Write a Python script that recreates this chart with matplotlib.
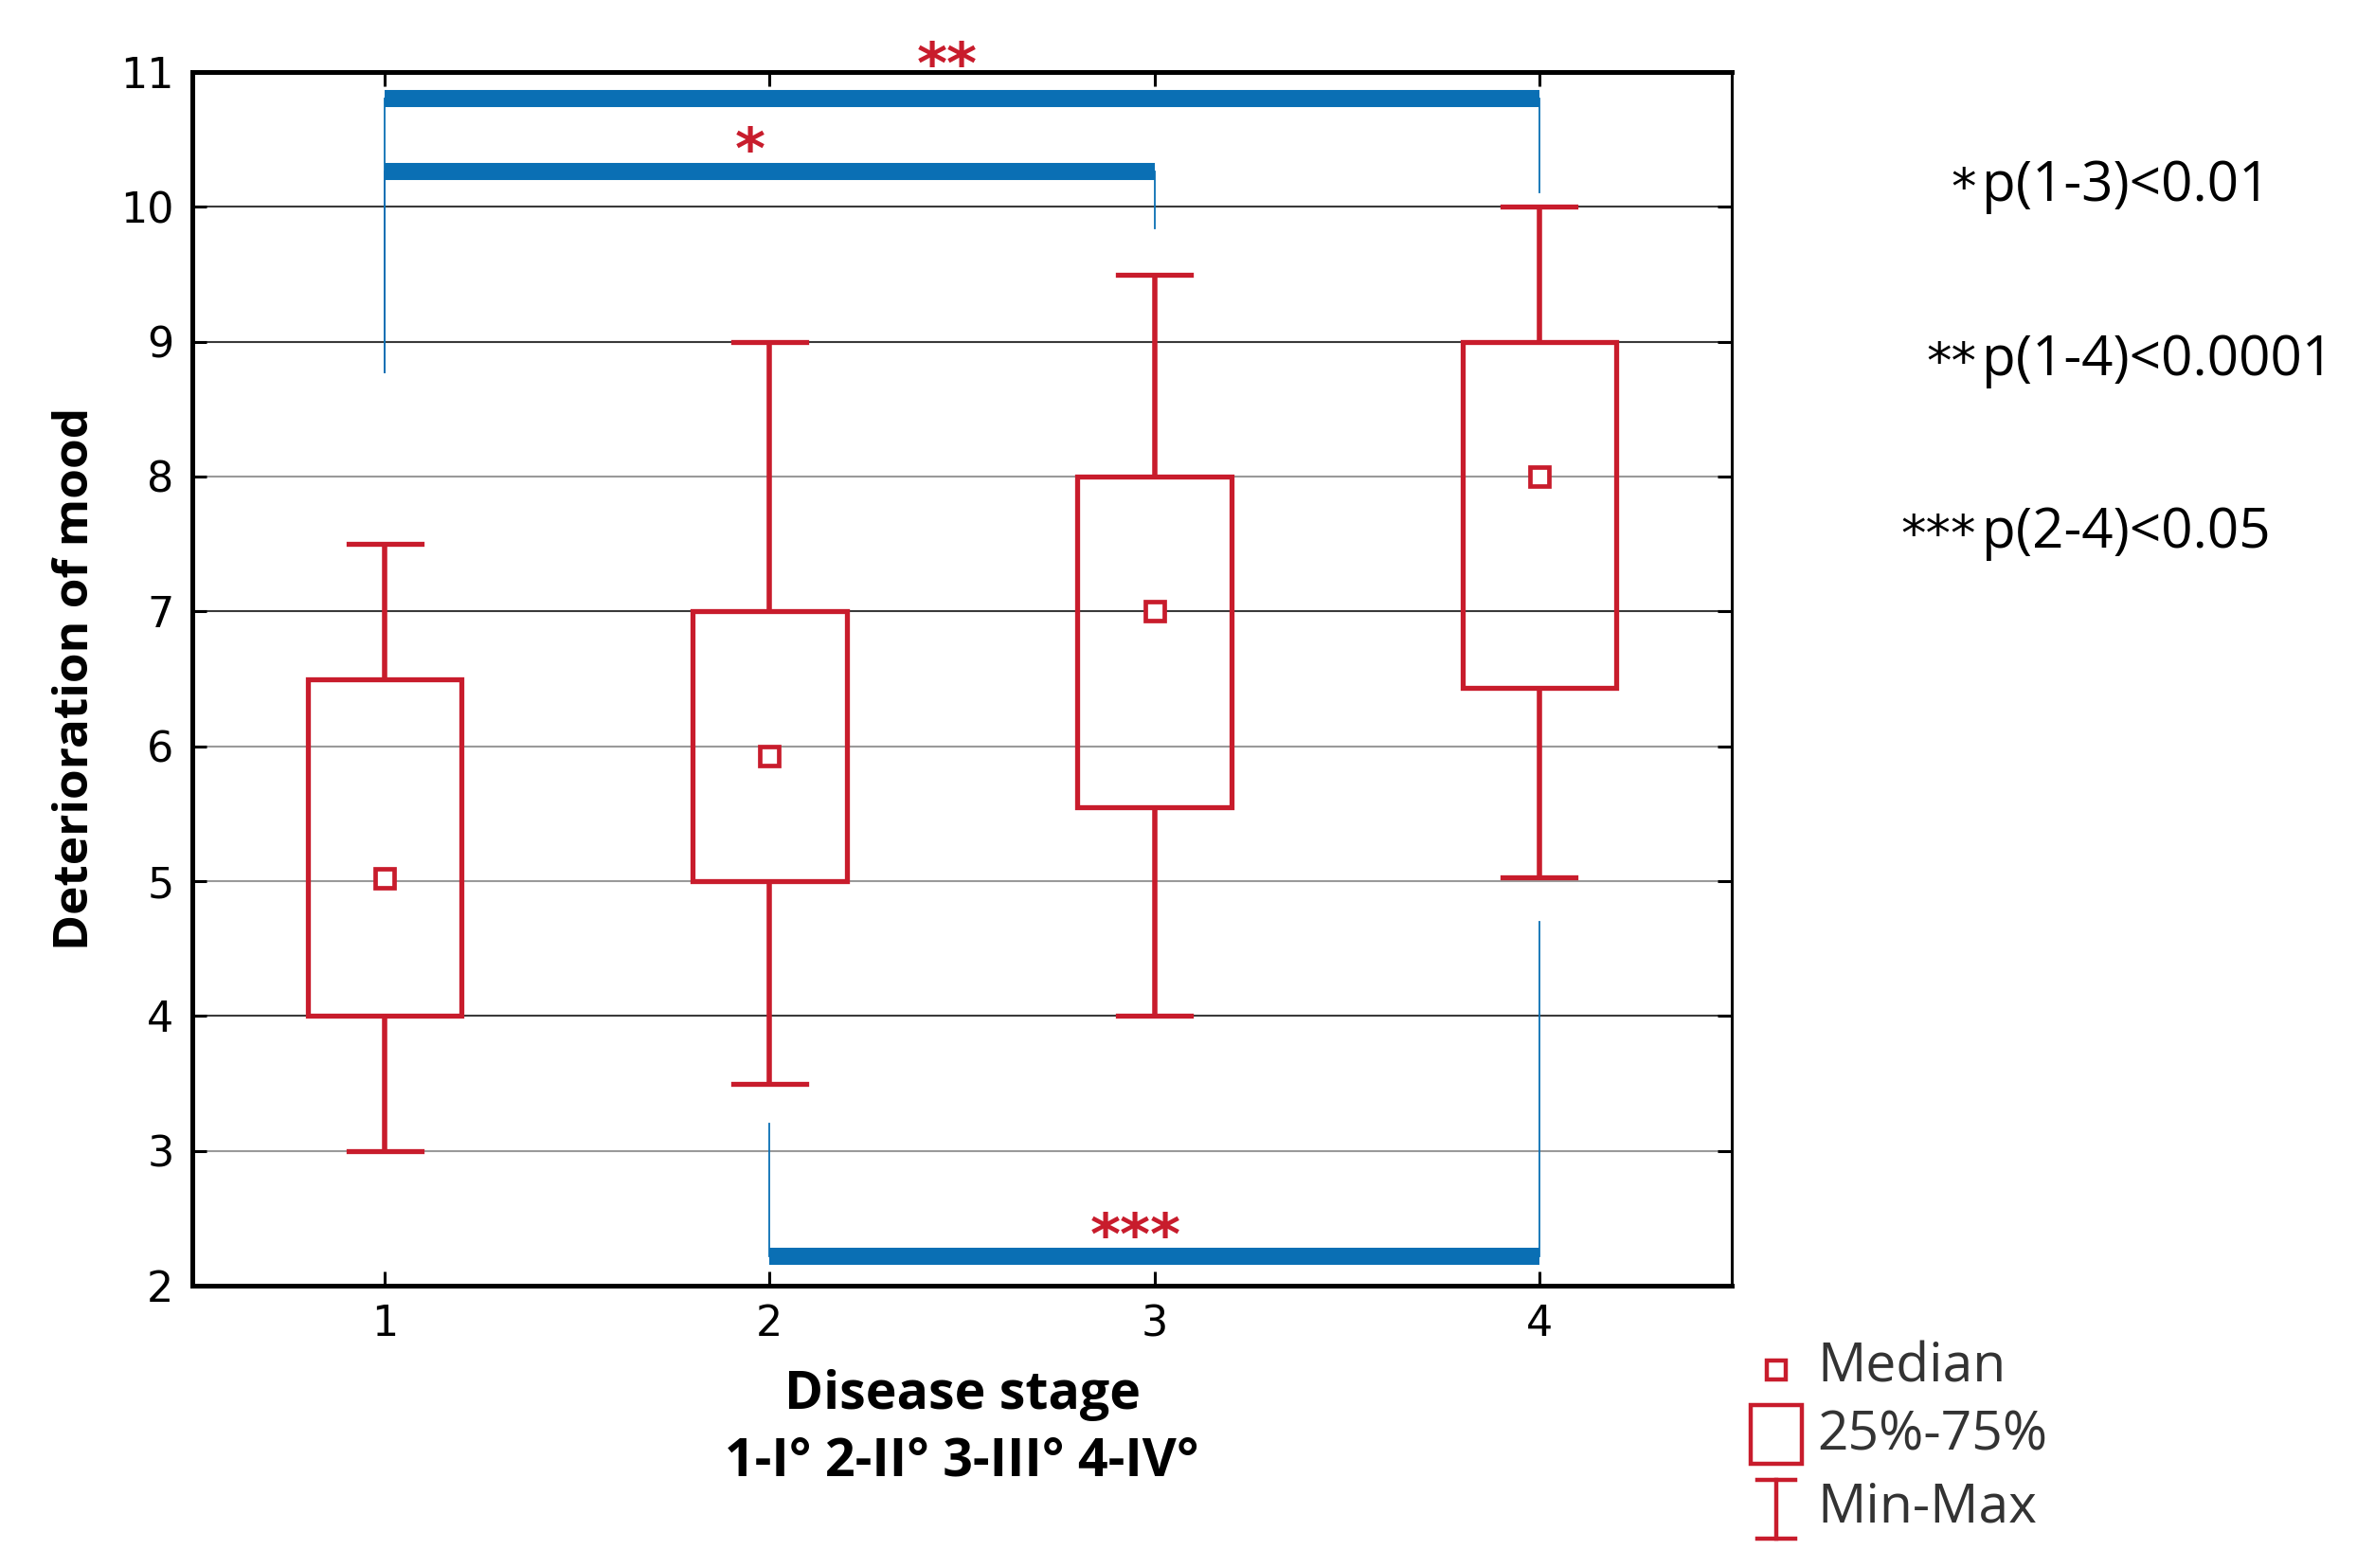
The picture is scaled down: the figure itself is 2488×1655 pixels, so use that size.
import matplotlib
matplotlib.use("Agg")
import matplotlib.pyplot as plt
from matplotlib.lines import Line2D
from matplotlib.patches import Rectangle
from matplotlib import font_manager

# ---- data ----
stages = [1, 2, 3, 4]
mins = [3.0, 3.5, 4.0, 5.03]
q1s = [4.0, 5.0, 5.55, 6.43]
medians = [5.02, 5.93, 7.0, 8.0]
q3s = [6.5, 7.0, 8.0, 9.0]
maxs = [7.5, 9.0, 9.5, 10.0]
yticks = [2, 3, 4, 5, 6, 7, 8, 9, 10, 11]
dark_grid = [4, 7, 9, 10]

# significance brackets
sig_from = [1, 1, 2]
sig_to = [4, 3, 4]
sig_bar_y = [10.8, 10.26, 2.22]
sig_left_end = [8.77, 8.77, 3.2]
sig_right_end = [10.11, 9.84, 4.7]
sig_labels = ["**", "*", "***"]
sig_label_x = [2.46, 1.95, 2.95]
sig_label_y = [11.03, 10.4, 2.35]

pnotes_stars = ["*", "**", "***"]
pnotes_text = ["p(1-3)<0.01", "p(1-4)<0.0001", "p(2-4)<0.05"]

legend_labels = ["Median", "25%-75%", "Min-Max"]

RED = "#c81c2c"
BLUE = "#0a6fb4"

avail = {f.name for f in font_manager.fontManager.ttflist}
narrow = "Liberation Sans Narrow" if "Liberation Sans Narrow" in avail else "DejaVu Sans"
humanist = "Open Sans"

W, H, DPI = 2488, 1655, 100
fig = plt.figure(figsize=(W / DPI, H / DPI), dpi=DPI)
L, R, T, B = 203, 1828, 76, 1357
ax = fig.add_axes([L / W, 1 - B / H, (R - L) / W, (B - T) / H])

ax.set_xlim(0.5, 4.5)
ax.set_ylim(2, 11)

# grid
for y in yticks[1:-1]:
    dark = y in dark_grid
    ax.axhline(y, color="#3a3a3a" if dark else "#9a9a9a", lw=1.5, zorder=0)

# boxes
bw = 0.40
cw = 0.19
for x, mn, a, m, b, mx in zip(stages, mins, q1s, medians, q3s, maxs):
    ax.add_patch(Rectangle((x - bw / 2, a), bw, b - a, fill=False, ec=RED, lw=3.8, zorder=3))
    ax.plot([x, x], [mn, a], color=RED, lw=4.0, zorder=3, solid_capstyle="butt")
    ax.plot([x, x], [b, mx], color=RED, lw=4.0, zorder=3, solid_capstyle="butt")
    ax.plot([x - cw / 2, x + cw / 2], [mn, mn], color=RED, lw=3.8, zorder=3)
    ax.plot([x - cw / 2, x + cw / 2], [mx, mx], color=RED, lw=3.8, zorder=3)
    ax.plot([x], [m], marker="s", ms=15, mfc="white", mec=RED, mew=3.4, zorder=4)

# significance brackets
for x0, x1, yb, yl, yr, lab, lx, ly in zip(sig_from, sig_to, sig_bar_y, sig_left_end,
                                          sig_right_end, sig_labels, sig_label_x, sig_label_y):
    ax.plot([x0, x1], [yb, yb], color=BLUE, lw=13, solid_capstyle="butt", zorder=2)
    ax.plot([x0, x0], [yb, yl], color=BLUE, lw=1.3, zorder=2)
    ax.plot([x1, x1], [yb, yr], color=BLUE, lw=1.3, zorder=2)
    ax.text(lx, ly, lab, color=RED, fontsize=44, fontweight="bold", ha="center", va="center",
            family="DejaVu Sans", zorder=5, clip_on=False)

# spines / ticks
for s in ["left", "top", "bottom"]:
    ax.spines[s].set_linewidth(3.6)
ax.spines["right"].set_linewidth(2.2)
ax.set_xticks(stages)
ax.set_xticklabels([str(s) for s in stages])
ax.set_yticks(yticks)
ax.tick_params(direction="in", length=11, width=2.2, top=True, right=True,
               labelsize=32, pad=14)
for lab in ax.get_xticklabels() + ax.get_yticklabels():
    lab.set_family(narrow)

ax.set_ylabel("Deterioration of mood", fontsize=37, fontweight="bold", family=humanist, labelpad=16)
fig.text((L + R) / 2 / W, 1 - 1473 / H, "Disease stage", fontsize=40, fontweight="bold",
         family=humanist, ha="center", va="center")
fig.text((L + R) / 2 / W, 1 - 1543 / H, "1-I\u00b0 2-II\u00b0 3-III\u00b0 4-IV\u00b0", fontsize=40,
         fontweight="bold", family=humanist, ha="center", va="center")

# p-value notes
for i, (st, tx) in enumerate(zip(pnotes_stars, pnotes_text)):
    yy = 1 - [197, 381, 563][i] / H
    fig.text(2086 / W, yy - 0.002, st, fontsize=38, ha="right", va="center", family="DejaVu Sans")
    fig.text(2092 / W, yy, tx, fontsize=42, ha="left", va="center", family=humanist)

# legend (manual)
lx = 1875
fig.add_artist(Line2D([lx / W], [1 - 1446 / H], marker="s", ms=14, mfc="white", mec=RED,
                      mew=3.2, transform=fig.transFigure))
fig.add_artist(Rectangle(((lx - 27) / W, 1 - 1545 / H), 54 / W, 62 / H, fill=False, ec=RED,
                         lw=3.2, transform=fig.transFigure))
fig.add_artist(Line2D([lx / W, lx / W], [1 - 1562 / H, 1 - 1624 / H], color=RED, lw=3.2,
                      transform=fig.transFigure))
fig.add_artist(Line2D([(lx - 20) / W, (lx + 20) / W], [1 - 1562 / H, 1 - 1562 / H], color=RED,
                      lw=3.2, transform=fig.transFigure))
fig.add_artist(Line2D([(lx - 20) / W, (lx + 20) / W], [1 - 1624 / H, 1 - 1624 / H], color=RED,
                      lw=3.2, transform=fig.transFigure))
for txt, yy in zip(legend_labels, [1444, 1516, 1592]):
    fig.text(1918 / W, 1 - yy / H, txt, fontsize=41, ha="left", va="center", family=humanist,
             color="#333333")

fig.savefig("out.png", dpi=DPI, facecolor="white")
